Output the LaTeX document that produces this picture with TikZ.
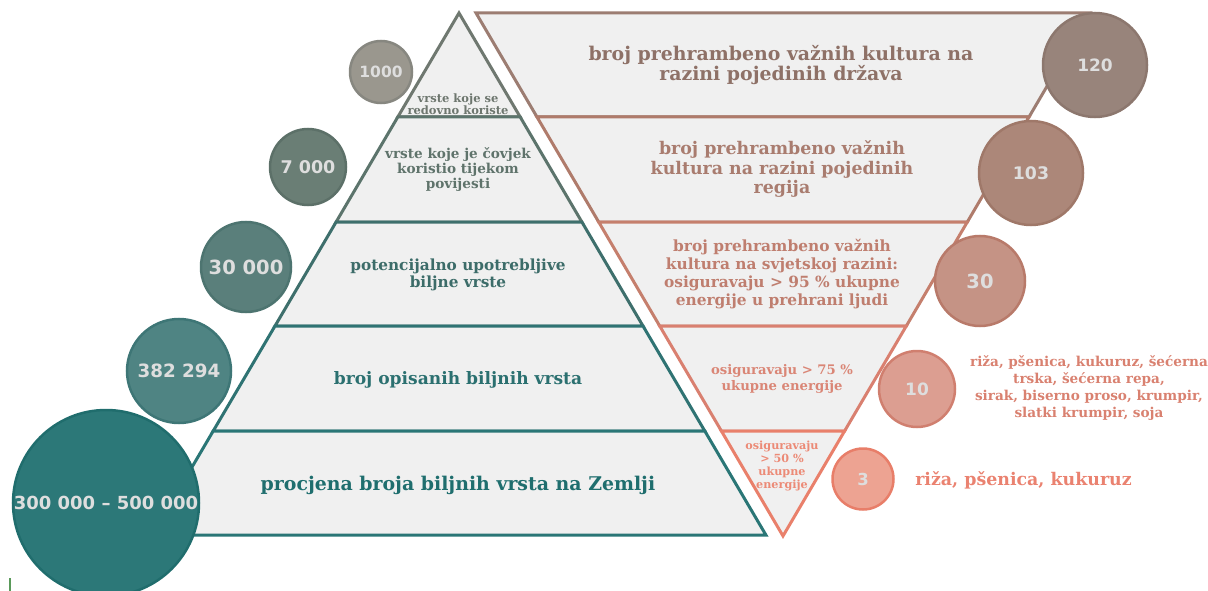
\documentclass[tikz,border=0pt]{standalone}
\usepackage{fontspec}
\newfontfamily\numf{DejaVu Sans}
\newfontfamily\serf{DejaVu Serif}
\definecolor{segfill}{HTML}{F0F0F0}
\definecolor{numtext}{HTML}{DEDEDE}
\definecolor{Ls1}{HTML}{6F7870}\definecolor{Lt1}{HTML}{6D766E}
\definecolor{Ls2}{HTML}{5C746C}\definecolor{Lt2}{HTML}{5F736B}
\definecolor{Ls3}{HTML}{3E6F6C}\definecolor{Lt3}{HTML}{3C6C69}
\definecolor{Ls4}{HTML}{2F7373}\definecolor{Lt4}{HTML}{2B7070}
\definecolor{Ls5}{HTML}{2A7676}\definecolor{Lt5}{HTML}{1F6E6E}
\definecolor{Lc1f}{HTML}{9A978E}\definecolor{Lc1s}{HTML}{878780}
\definecolor{Lc2f}{HTML}{6A7E75}\definecolor{Lc2s}{HTML}{5C7068}
\definecolor{Lc3f}{HTML}{5A7F7B}\definecolor{Lc3s}{HTML}{4D7470}
\definecolor{Lc4f}{HTML}{4F8483}\definecolor{Lc4s}{HTML}{3E7676}
\definecolor{Lc5f}{HTML}{2C7878}\definecolor{Lc5s}{HTML}{206D6D}
\definecolor{Rs1}{HTML}{9C7D72}\definecolor{Rt1}{HTML}{8E7167}
\definecolor{Rs2}{HTML}{AF7B6B}\definecolor{Rt2}{HTML}{A97C6F}
\definecolor{Rs3}{HTML}{C57F6D}\definecolor{Rt3}{HTML}{BF7E6F}
\definecolor{Rs4}{HTML}{D98070}\definecolor{Rt4}{HTML}{DA8676}
\definecolor{Rs5}{HTML}{E9806B}\definecolor{Rt5}{HTML}{EC8A76}
\definecolor{Rc1f}{HTML}{98847B}\definecolor{Rc1s}{HTML}{8C776E}
\definecolor{Rc2f}{HTML}{AC8779}\definecolor{Rc2s}{HTML}{9F7869}
\definecolor{Rc3f}{HTML}{C59385}\definecolor{Rc3s}{HTML}{B87A6A}
\definecolor{Rc4f}{HTML}{DC9E91}\definecolor{Rc4s}{HTML}{D07F6F}
\definecolor{Rc5f}{HTML}{EDA392}\definecolor{Rc5s}{HTML}{E87E69}
\definecolor{listA}{HTML}{D98170}
\definecolor{listB}{HTML}{EA8270}
\definecolor{tick}{HTML}{5A9A5A}
\tikzset{
  seg/.style={line width=3pt, fill=segfill, line join=miter},
  numc/.style={circle, line width=2.5pt, inner sep=0pt, text=numtext},
  lab/.style={align=center, inner sep=0pt},
}
\newcommand{\sz}[2]{\fontsize{#1}{#2}\selectfont}
\begin{document}
\begin{tikzpicture}[x=1pt,y=-1pt]
\useasboundingbox (0,0) rectangle (1208,591);
\clip (0,0) rectangle (1208,591);
% left pyramid
\draw[seg, draw=Ls1] (459,13) -- (520.2,117) -- (397.8,117) -- cycle;
\draw[seg, draw=Ls2] (397.8,117) -- (520.2,117) -- (581.9,222) -- (336.1,222) -- cycle;
\draw[seg, draw=Ls3] (336.1,222) -- (581.9,222) -- (643.0,326) -- (275.0,326) -- cycle;
\draw[seg, draw=Ls4] (275.0,326) -- (643.0,326) -- (704.8,431) -- (213.2,431) -- cycle;
\draw[seg, draw=Ls5] (213.2,431) -- (704.8,431) -- (765.9,535) -- (152.1,535) -- cycle;
% right inverted pyramid
\draw[seg, draw=Rs1] (476,13) -- (1090,13) -- (1029,117) -- (537,117) -- cycle;
\draw[seg, draw=Rs2] (537,117) -- (1029,117) -- (967.3,222) -- (598.7,222) -- cycle;
\draw[seg, draw=Rs3] (598.7,222) -- (967.3,222) -- (906.3,326) -- (659.7,326) -- cycle;
\draw[seg, draw=Rs4] (659.7,326) -- (906.3,326) -- (844.6,431) -- (721.4,431) -- cycle;
\draw[seg, draw=Rs5] (721.4,431) -- (844.6,431) -- (783,536) -- cycle;
% left labels
\node[lab, text=Lt1, font=\serf\bfseries\sz{11.5}{12.5}] (l1) at (458,104) {vrste koje se\\redovno koriste};
\node[lab, text=Lt2, font=\serf\bfseries\sz{13.6}{15}] (l2) at (458,170) {vrste koje je čovjek\\koristio tijekom\\povijesti};
\node[lab, text=Lt3, font=\serf\bfseries\sz{15.3}{16.3}] (l3) at (458,275) {potencijalno upotrebljive\\biljne vrste};
\node[lab, text=Lt4, font=\serf\bfseries\sz{17.1}{19}] (l4) at (458,380) {broj opisanih biljnih vrsta};
\node[lab, text=Lt5, font=\serf\bfseries\sz{18.9}{21}] (l5) at (458,485) {procjena broja biljnih vrsta na Zemlji};
% right labels
\node[lab, text=Rt1, font=\serf\bfseries\sz{18.9}{20.5}] (r1) at (781,65) {broj prehrambeno važnih kultura na\\razini pojedinih država};
\node[lab, text=Rt2, font=\serf\bfseries\sz{17.4}{19.5}] (r2) at (782,169) {broj prehrambeno važnih\\kultura na razini pojedinih\\regija};
\node[lab, text=Rt3, font=\serf\bfseries\sz{15.4}{18}] (r3) at (782,274) {broj prehrambeno važnih\\kultura na svjetskoj razini:\\osiguravaju > 95 \% ukupne\\energije u prehrani ljudi};
\node[lab, text=Rt4, font=\serf\bfseries\sz{13.2}{16}] (r4) at (782,379) {osiguravaju > 75 \%\\ukupne energije};
\node[lab, text=Rt5, font=\serf\bfseries\sz{11.2}{12.7}] (r5) at (782,466) {osiguravaju\\> 50 \%\\ukupne\\energije};
% left circles
\node[numc, fill=Lc1f, draw=Lc1s, minimum size=62pt, font=\numf\bfseries\sz{15.5}{17}] (c1) at (381,72) {1000};
\node[numc, fill=Lc2f, draw=Lc2s, minimum size=76pt, font=\numf\bfseries\sz{17.5}{19}] (c2) at (308,167) {7 000};
\node[numc, fill=Lc3f, draw=Lc3s, minimum size=90pt, font=\numf\bfseries\sz{19.5}{21}] (c3) at (246,267) {30 000};
\node[numc, fill=Lc4f, draw=Lc4s, minimum size=104pt, font=\numf\bfseries\sz{18.3}{20}] (c4) at (179,371) {382 294};
\node[numc, fill=Lc5f, draw=Lc5s, minimum size=186pt, font=\numf\bfseries\sz{18}{20}] (c5) at (106,503) {300 000 – 500 000};
% right circles
\node[numc, fill=Rc1f, draw=Rc1s, minimum size=104pt, font=\numf\bfseries\sz{17}{19}] (d1) at (1095,65) {120};
\node[numc, fill=Rc2f, draw=Rc2s, minimum size=104pt, font=\numf\bfseries\sz{17.3}{19}] (d2) at (1031,173) {103};
\node[numc, fill=Rc3f, draw=Rc3s, minimum size=90pt, font=\numf\bfseries\sz{19.5}{21}] (d3) at (980,281) {30};
\node[numc, fill=Rc4f, draw=Rc4s, minimum size=76pt, font=\numf\bfseries\sz{17}{19}] (d4) at (917,389) {10};
\node[numc, fill=Rc5f, draw=Rc5s, minimum size=61pt, font=\numf\bfseries\sz{16.5}{18}] (d5) at (863,479) {3};
% crop lists
\node[lab, text=listA, font=\serf\bfseries\sz{13.6}{17.2}] (t1) at (1089,388) {riža, pšenica, kukuruz, šećerna\\trska, šećerna repa,\\sirak, biserno proso, krumpir,\\slatki krumpir, soja};
\node[lab, text=listB, font=\serf\bfseries\sz{17.4}{20}] (t2) at (1023.5,480) {riža, pšenica, kukuruz};
% small mark
\coordinate (m1) at (10,578);
\coordinate (m2) at (10,591);
\draw[tick, line width=1.5pt] (m1) -- (m2);
\end{tikzpicture}
\end{document}
